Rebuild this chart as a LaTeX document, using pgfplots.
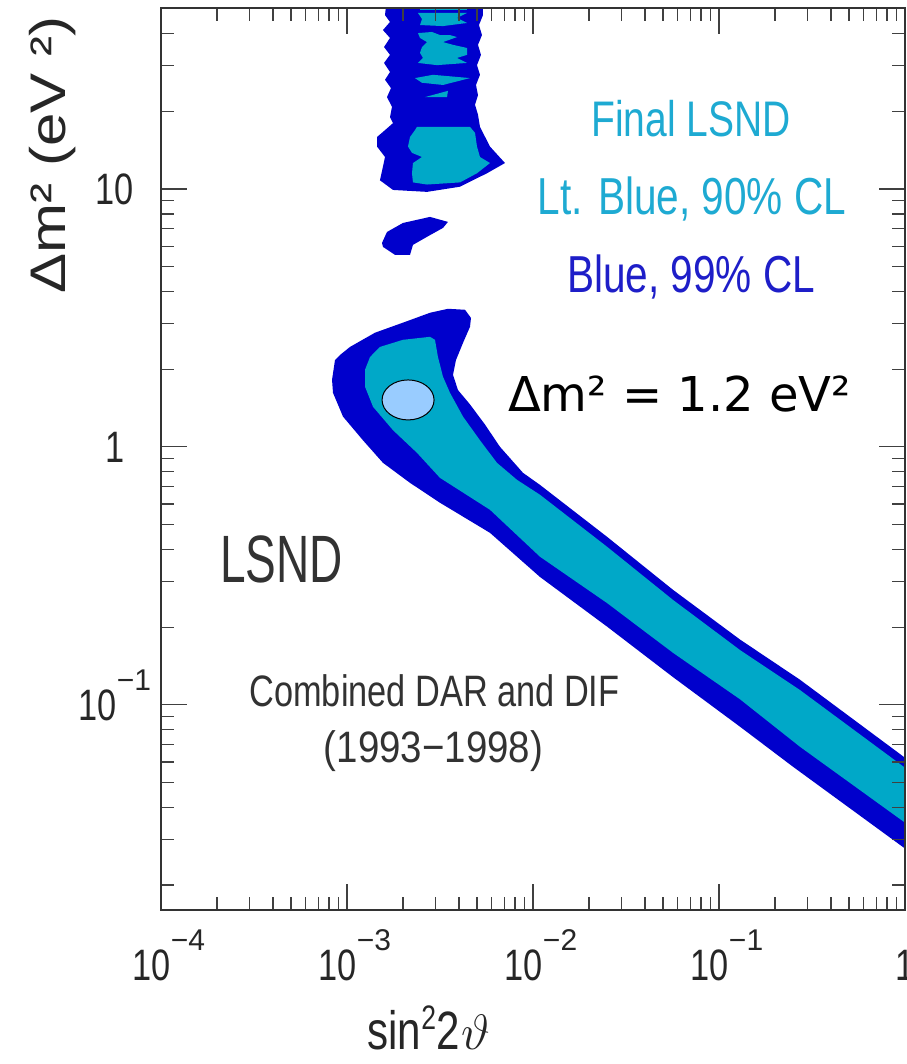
\documentclass[border=0pt]{standalone}
\usepackage{pgfplots}
\pgfplotsset{compat=1.18}
\usepackage{fontspec}
\setmainfont{Liberation Sans}
\newfontfamily\nf[FakeStretch=0.78]{Liberation Sans}
\newfontfamily\dv{DejaVu Sans}
\definecolor{dblue}{RGB}{0,0,204}
\definecolor{cyanf}{RGB}{0,168,200}
\definecolor{tcyan}{RGB}{30,170,210}
\definecolor{tblue}{RGB}{30,30,200}
\definecolor{tgray}{RGB}{50,50,50}
\definecolor{ell}{RGB}{153,204,255}
\newcommand{\ex}[1]{\raisebox{15pt}{\rmfamily\fontsize{15}{16}\selectfont #1}}
\newcommand{\tl}{\nf\fontsize{22}{24}\selectfont}
\begin{document}
\begin{tikzpicture}
\begin{axis}[
  at={(0,0)}, anchor=south west,
  scale only axis, width=372pt, height=451pt,
  xmode=log, ymode=log,
  xmin=1e-4, xmax=1, ymin=0.016, ymax=50.3,
  axis on top,
  axis line style={line width=1pt, color=black!80},
  tick style={line width=0.6pt, color=black!75},
  major tick length=13pt, minor tick length=6.5pt,
  xtick={1e-4,1e-3,1e-2,1e-1,1},
  xticklabels={10\ex{−4},10\ex{−3},10\ex{−2},10\ex{−1},\makebox[0pt]{1\kern8pt}},
  minor xtick={2e-4,3e-4,4e-4,5e-4,6e-4,7e-4,8e-4,9e-4,2e-3,3e-3,4e-3,5e-3,6e-3,7e-3,8e-3,9e-3,2e-2,3e-2,4e-2,5e-2,6e-2,7e-2,8e-2,9e-2,0.2,0.3,0.4,0.5,0.6,0.7,0.8,0.9},
  ytick={0.1,1,10},
  yticklabels={10\ex{−1},1,10},
  minor ytick={0.02,0.03,0.04,0.05,0.06,0.07,0.08,0.09,0.2,0.3,0.4,0.5,0.6,0.7,0.8,0.9,2,3,4,5,6,7,8,9,20,30,40,50},
  xticklabel style={anchor=base, yshift=-35pt, xshift=4pt, font=\tl, text=black!85},
  yticklabel style={anchor=base, xshift=-23pt, yshift=-8pt, font=\tl, text=black!85},
  xlabel={sin\raisebox{10pt}{\fontsize{17}{17}\selectfont 2}2\kern1pt$\vartheta$},
  xlabel style={at={(rel axis cs:0.36,-0.155)}, anchor=base, font=\nf\fontsize{27}{30}\selectfont, text=black!85},
  ylabel={\scalebox{1.2}[1]{Δm² (eV ²)}},
  ylabel style={at={(rel axis cs:-0.129,0.837)}, anchor=base, rotate=0, font=\fontsize{25}{28}\selectfont, text=black!85},
]
% 99% CL (dark blue): upper strip
\addplot[fill=dblue, draw=none] coordinates {
(1.661e-3,60) (1.601e-3,47.2) (1.703e-3,44.4) (1.561e-3,41.3) (1.703e-3,38.5) (1.582e-3,35.5) (1.703e-3,33.1) (1.582e-3,30.8) (1.703e-3,28.4) (1.601e-3,26.5) (1.724e-3,24.6) (1.641e-3,22.7) (1.746e-3,20.8) (1.703e-3,19.0) (1.768e-3,18.0) (1.601e-3,16.9) (1.450e-3,15.9) (1.450e-3,14.6) (1.601e-3,13.3) (1.561e-3,12.2) (1.504e-3,10.8) (1.768e-3,9.91) (2.692e-3,9.74) (4.052e-3,10.2) (5.657e-3,11.5) (7.071e-3,12.6) (5.871e-3,14.6) (5.188e-3,17.4) (5.062e-3,19.4) (4.878e-3,21.2) (5.062e-3,23.1) (4.938e-3,25.3) (5.188e-3,27.7) (4.999e-3,30.2) (5.252e-3,33.1) (5.062e-3,36.2) (5.317e-3,39.5) (5.124e-3,43.2) (5.384e-3,47.2) (5.317e-3,60)
} --cycle;
% island
\addplot[fill=dblue, draw=none] coordinates {
(1.543e-3,6.18) (1.641e-3,6.81) (2.000e-3,7.38) (2.794e-3,7.79) (3.491e-3,7.45) (3.282e-3,7.06) (2.692e-3,6.52) (2.263e-3,6.07) (2.182e-3,5.55) (1.812e-3,5.55) (1.561e-3,5.96)
} --cycle;
% main band
\addplot[fill=dblue, draw=none] coordinates {
(8.31e-4,1.82) (8.62e-4,2.17) (9.17e-4,2.27) (1.038e-3,2.44) (1.414e-3,2.77) (2.050e-3,3.05) (2.794e-3,3.31) (3.491e-3,3.43) (4.310e-3,3.40) (4.642e-3,3.16) (4.585e-3,2.92) (4.205e-3,2.53) (3.855e-3,2.17) (3.715e-3,1.90) (3.953e-3,1.66) (4.585e-3,1.46) (5.519e-3,1.22) (6.645e-3,1.00) (8.836e-3,0.793) (1.090e-2,0.712) (2.499e-2,0.448) (5.657e-2,0.279) (0.1297,0.179) (0.2726,0.125) (1,0.0623) (1,0.0277) (0.2499,0.0575) (0.1297,0.0822) (5.657e-2,0.128) (2.499e-2,0.201) (1.090e-2,0.313) (5.871e-3,0.464) (3.162e-3,0.607) (2.182e-3,0.725) (1.561e-3,0.867) (1.219e-3,1.06) (9.517e-4,1.31) (8.409e-4,1.62)
} --cycle;
% 90% CL (light blue)
\addplot[fill=cyanf, draw=none] coordinates {
(1.504e-3,2.44) (2.000e-3,2.60) (2.794e-3,2.67) (2.972e-3,2.60) (3.084e-3,2.23) (3.282e-3,1.87) (3.579e-3,1.62) (4.205e-3,1.31) (5.188e-3,1.06) (6.402e-3,0.867) (8.203e-3,0.745) (1.090e-2,0.652) (2.499e-2,0.410) (5.657e-2,0.255) (0.1297,0.163) (0.2726,0.114) (1,0.0570) (1,0.0349) (0.2726,0.0687) (0.1297,0.105) (5.657e-2,0.159) (2.499e-2,0.248) (1.090e-2,0.375) (5.871e-3,0.570) (3.162e-3,0.758) (2.378e-3,0.948) (1.768e-3,1.16) (1.380e-3,1.43) (1.250e-3,1.71) (1.250e-3,1.99) (1.330e-3,2.23)
} --cycle;
\addplot[fill=cyanf, draw=none] coordinates {
(2.378e-3,17.4) (4.585e-3,17.4) (4.878e-3,16.5) (4.999e-3,14.6) (5.188e-3,13.3) (5.871e-3,12.6) (4.999e-3,11.5) (4.052e-3,10.6) (2.692e-3,10.4) (2.263e-3,10.6) (2.236e-3,11.5) (2.263e-3,12.6) (2.531e-3,13.3) (2.236e-3,13.8) (2.128e-3,14.6) (2.182e-3,15.9) (2.320e-3,16.9)
} --cycle;
\addplot[fill=cyanf, draw=none] coordinates {
(2.626e-3,22.7) (3.491e-3,24.0) (3.449e-3,22.7)
} --cycle;
\addplot[fill=cyanf, draw=none] coordinates {
(2.320e-3,26.9) (2.900e-3,27.7) (4.585e-3,26.9) (3.282e-3,25.3) (2.531e-3,25.8)
} --cycle;
\addplot[fill=cyanf, draw=none] coordinates {
(2.408e-3,40.2) (2.864e-3,40.6) (3.162e-3,39.5) (3.579e-3,39.5) (3.904e-3,38.8) (3.282e-3,37.1) (3.715e-3,36.2) (4.418e-3,35.2) (4.418e-3,33.1) (3.904e-3,32.2) (4.418e-3,30.8) (3.047e-3,30.2) (2.408e-3,30.8) (2.562e-3,32.2) (2.469e-3,33.7) (2.531e-3,35.5) (2.692e-3,37.1) (2.469e-3,38.5)
} --cycle;
\addplot[fill=cyanf, draw=none] coordinates {
(2.408e-3,48.1) (4.418e-3,48.1) (3.904e-3,46.0) (4.418e-3,44.0) (3.282e-3,42.8) (2.469e-3,43.2) (2.531e-3,45.6)
} --cycle;
\addplot[fill=cyanf, draw=none] coordinates {
(2.469e-3,60) (4.418e-3,60) (4.418e-3,49.2) (2.469e-3,49.2)
} --cycle;
% best fit marker
\addplot[only marks, mark=*, mark size=10pt, mark options={xscale=1.3, fill=ell, draw=black, line width=0.5pt}] coordinates {(2.13e-3,1.52)};
\end{axis}
\node[anchor=base, text=tcyan, font=\nf\fontsize{25}{28}\selectfont] at (265pt,386.5pt) {Final LSND};
\node[anchor=base, text=tcyan, font=\nf\fontsize{26}{29}\selectfont] at (265.5pt,347.5pt) {Lt. Blue, 90\% CL};
\node[anchor=base, text=tblue, font=\nf\fontsize{26}{29}\selectfont] at (265pt,308.5pt) {Blue, 99\% CL};
\node[anchor=base, text=black, font=\dv\fontsize{24}{27}\selectfont] at (259.25pt,249pt) {Δm² = 1.2 eV²};
\node[anchor=base, text=tgray, font=\nf\fontsize{33.5}{36}\selectfont] at (60.25pt,163.5pt) {\scalebox{0.88}[1]{LSND}};
\node[anchor=base, text=tgray, font=\nf\fontsize{22}{25}\selectfont] at (136.75pt,101.5pt) {Combined DAR and DIF};
\node[anchor=base, text=tgray, font=\nf\fontsize{22}{25}\selectfont] at (136.25pt,73.5pt) {\scalebox{1.12}[1]{(1993−1998)}};
\pgfresetboundingbox
\path[use as bounding box] (-80.5pt,-77pt) rectangle (372.5pt,455pt);
\end{tikzpicture}
\end{document}
